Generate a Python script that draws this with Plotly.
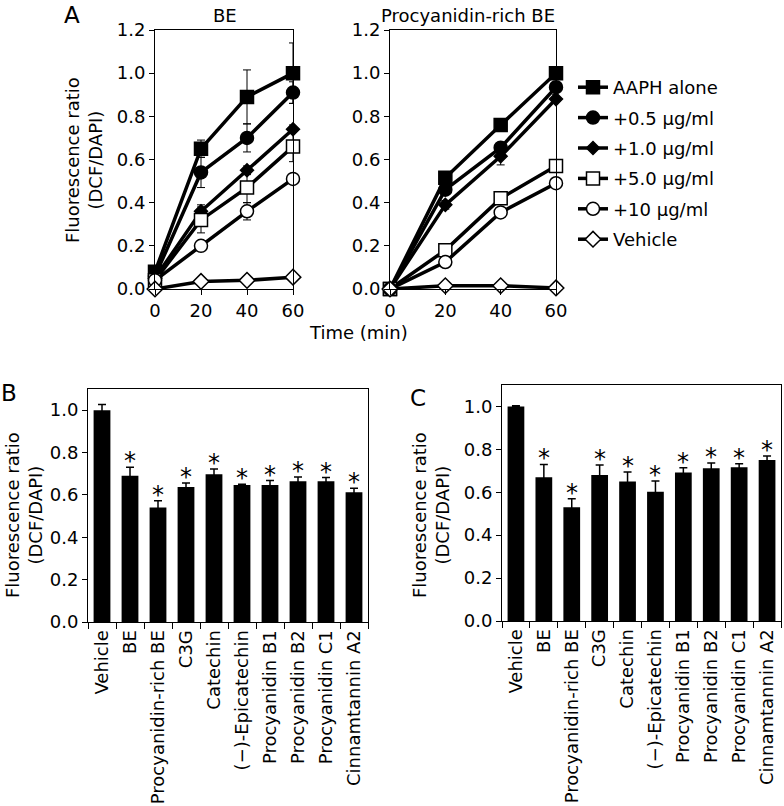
import plotly.graph_objects as go

W, H = 784, 806
FONT = "DejaVu Sans"

# ---- panel A data ----
time_min = [0, 20, 40, 60]
series_names = ["AAPH alone", "+0.5 µg/ml", "+1.0 µg/ml", "+5.0 µg/ml", "+10 µg/ml", "Vehicle"]

be_aaph = [0.08, 0.65, 0.89, 1.00]
be_05 = [0.06, 0.54, 0.70, 0.91]
be_10 = [0.05, 0.36, 0.55, 0.74]
be_50 = [0.04, 0.32, 0.47, 0.66]
be_100 = [0.04, 0.20, 0.36, 0.51]
be_veh = [0.00, 0.035, 0.04, 0.055]

be_aaph_err = [0.0, 0.04, 0.125, 0.14]
be_05_err = [0.0, 0.07, 0.065, 0.05]
be_10_err = [0.0, 0.03, 0.02, 0.02]
be_50_err = [0.0, 0.06, 0.07, 0.07]
be_100_err = [0.0, 0.02, 0.04, 0.02]
be_veh_err = [0.0, 0.005, 0.005, 0.005]

pr_aaph = [0.0, 0.515, 0.76, 1.00]
pr_05 = [0.0, 0.46, 0.655, 0.935]
pr_10 = [0.0, 0.39, 0.615, 0.88]
pr_50 = [0.0, 0.18, 0.42, 0.57]
pr_100 = [0.0, 0.125, 0.355, 0.49]
pr_veh = [0.0, 0.015, 0.015, 0.005]

pr_aaph_err = [0.0, 0.02, 0.02, 0.02]
pr_05_err = [0.0, 0.02, 0.02, 0.02]
pr_10_err = [0.0, 0.02, 0.04, 0.02]
pr_50_err = [0.0, 0.01, 0.02, 0.02]
pr_100_err = [0.0, 0.01, 0.02, 0.02]
pr_veh_err = [0.0, 0.005, 0.005, 0.005]

# ---- panels B / C data ----
treatments = ["Vehicle", "BE", "Procyanidin-rich BE", "C3G", "Catechin", "(−)-Epicatechin",
              "Procyanidin B1", "Procyanidin B2", "Procyanidin C1", "Cinnamtannin A2"]
b_vals = [1.00, 0.69, 0.54, 0.637, 0.697, 0.647, 0.647, 0.664, 0.665, 0.612]
b_err = [0.027, 0.04, 0.033, 0.019, 0.025, 0.003, 0.021, 0.02, 0.017, 0.02]
c_vals = [1.00, 0.67, 0.53, 0.68, 0.65, 0.602, 0.692, 0.712, 0.717, 0.75]
c_err = [0.003, 0.06, 0.04, 0.047, 0.045, 0.05, 0.022, 0.025, 0.016, 0.019]
b_sig = ["", "*", "*", "*", "*", "*", "*", "*", "*", "*"]
c_sig = ["", "*", "*", "*", "*", "*", "*", "*", "*", "*"]

styles = [
    dict(symbol="square", color="black", size=13),
    dict(symbol="circle", color="black", size=13),
    dict(symbol="diamond", color="black", size=10),
    dict(symbol="square", color="white", size=13),
    dict(symbol="circle", color="white", size=13),
    dict(symbol="diamond", color="white", size=12),
]

fig = go.Figure()

be_sets = [(be_aaph, be_aaph_err), (be_05, be_05_err), (be_10, be_10_err),
           (be_50, be_50_err), (be_100, be_100_err), (be_veh, be_veh_err)]
pr_sets = [(pr_aaph, pr_aaph_err), (pr_05, pr_05_err), (pr_10, pr_10_err),
           (pr_50, pr_50_err), (pr_100, pr_100_err), (pr_veh, pr_veh_err)]

for panel, sets in enumerate([be_sets, pr_sets]):
    ax = "" if panel == 0 else "2"
    for i, (vals, errs) in enumerate(sets):
        st = styles[i]
        fig.add_trace(go.Scatter(
            x=time_min, y=vals, mode="lines+markers", name=series_names[i],
            xaxis="x" + ax, yaxis="y" + ax,
            line=dict(color="black", width=3.5),
            marker=dict(symbol=st["symbol"], size=st["size"], color=st["color"],
                        line=dict(color="black", width=1.5)),
            error_y=dict(type="data", array=errs, color="black", thickness=1, width=4),
            cliponaxis=False, showlegend=(panel == 0),
            legendgroup=str(i),
        ))

for ax, vals, errs, sig in [("3", b_vals, b_err, b_sig), ("4", c_vals, c_err, c_sig)]:
    fig.add_trace(go.Bar(
        x=treatments, y=vals, xaxis="x" + ax, yaxis="y" + ax,
        marker=dict(color="black", line=dict(width=0)),
        error_y=dict(type="data", array=errs, color="black", thickness=1.5, width=4),
        showlegend=False,
    ))
    # significance stars just above each error bar
    for cat, v, e, s in zip(treatments, vals, errs, sig):
        if s:
            fig.add_annotation(x=cat, y=v + e, xref="x" + ax, yref="y" + ax, text=s,
                               showarrow=False, yanchor="middle", yshift=6,
                               font=dict(size=24, family=FONT, color="black"))

def px_x(a, b):
    return [a / W, b / W]

def px_y(top, bottom):
    return [1 - bottom / H, 1 - top / H]

axis_common = dict(showline=True, linecolor="black", linewidth=1, mirror=True,
                   ticks="outside", ticklen=5, tickcolor="black", showgrid=False,
                   zeroline=False, tickfont=dict(size=18, family=FONT, color="black"))

time_axis = dict(axis_common, range=[0, 60], tickvals=[0, 20, 40, 60])
ratio_axis = dict(axis_common, range=[0, 1.2], tickvals=[0, 0.2, 0.4, 0.6, 0.8, 1.0, 1.2],
                  tickformat=".1f")
bar_y = dict(axis_common, range=[0, 1.1], tickvals=[0, 0.2, 0.4, 0.6, 0.8, 1.0], tickformat=".1f")
bar_x = dict(axis_common, tickangle=-90, tickson="boundaries", ticklen=6)

fig.update_layout(
    width=W, height=H, plot_bgcolor="white", paper_bgcolor="white",
    margin=dict(l=0, r=0, t=0, b=0, autoexpand=False),
    font=dict(family=FONT, size=18, color="black"),
    bargap=0.4,
    xaxis=dict(time_axis, domain=px_x(155, 293), anchor="y"),
    yaxis=dict(ratio_axis, domain=px_y(30, 289), anchor="x"),
    xaxis2=dict(time_axis, domain=px_x(390, 556), anchor="y2"),
    yaxis2=dict(ratio_axis, domain=px_y(30, 289), anchor="x2"),
    xaxis3=dict(bar_x, domain=px_x(88, 368), anchor="y3"),
    yaxis3=dict(bar_y, domain=px_y(389, 622), anchor="x3"),
    xaxis4=dict(bar_x, domain=px_x(502, 781), anchor="y4"),
    yaxis4=dict(bar_y, domain=px_y(385, 621), anchor="x4"),
    legend=dict(x=573 / W, y=1 - 69 / H, xanchor="left", yanchor="top",
                font=dict(size=18, family=FONT), tracegroupgap=4,
                bgcolor="rgba(0,0,0,0)", itemwidth=30),
)

def note(text, x, y, size=18, angle=0):
    fig.add_annotation(text=text, x=x / W, y=1 - y / H, xref="paper", yref="paper",
                       showarrow=False, font=dict(size=size, family=FONT, color="black"),
                       textangle=angle, xanchor="center", yanchor="middle")

note("A", 72, 15, size=23)
note("B", 9, 393, size=23)
note("C", 418, 398, size=23)
note("BE", 225, 15)
note("Procyanidin-rich BE", 468, 15)
note("Time (min)", 358, 333)
note("Fluorescence ratio<br>(DCF/DAPI)", 84, 160, angle=-90)
note("Fluorescence ratio<br>(DCF/DAPI)", 24, 515, angle=-90)
note("Fluorescence ratio<br>(DCF/DAPI)", 431, 515, angle=-90)

# drop the default page margin so the figure sits at the window's corner
fig.write_html("out.html", post_script="document.body.style.margin = '0';",
               config={"displayModeBar": False})
